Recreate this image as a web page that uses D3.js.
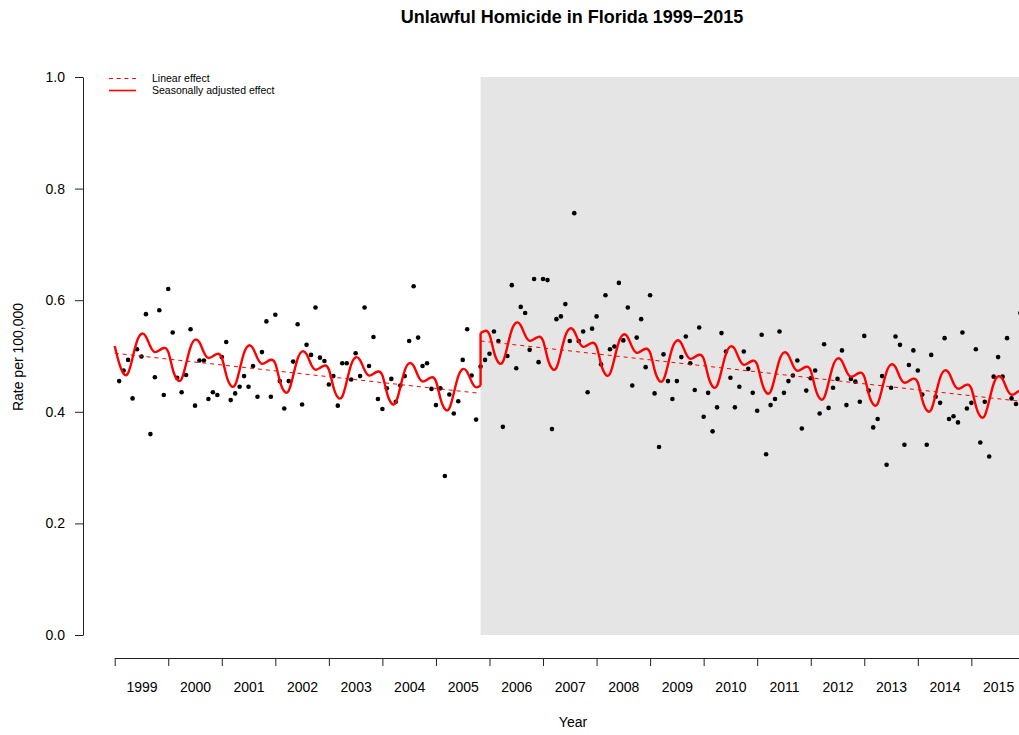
<!DOCTYPE html>
<html>
<head>
<meta charset="utf-8">
<script src="https://cdn.jsdelivr.net/npm/d3@7"></script>
<style>
body { margin: 0; background: #fff; }
svg { display: block; font-family: "Liberation Sans", Arial, Helvetica, sans-serif; }
</style>
</head>
<body>
<svg id="chart" width="1019" height="735"></svg>
<script>

// monthly rate per 100,000, month 1 = Jan 1999
var rates = [
  0.455, 0.474, 0.493, 0.424, 0.512, 0.499, 0.575, 0.360, 0.462, 0.582, 0.430, 0.620,
  0.542, 0.461, 0.435, 0.466, 0.548, 0.411, 0.492, 0.492, 0.423, 0.435, 0.430, 0.498,
  0.525, 0.421, 0.433, 0.445, 0.464, 0.445, 0.482, 0.427, 0.507, 0.562, 0.427, 0.574,
  0.455, 0.406, 0.455, 0.490, 0.557, 0.413, 0.520, 0.502, 0.587, 0.497, 0.491, 0.449,
  0.464, 0.411, 0.487, 0.487, 0.458, 0.505, 0.464, 0.587, 0.482, 0.534, 0.423, 0.405,
  0.442, 0.459, 0.418, 0.447, 0.464, 0.527, 0.625, 0.533, 0.482, 0.487, 0.441, 0.412,
  0.442, 0.285, 0.431, 0.397, 0.419, 0.493, 0.548, 0.465, 0.386, 0.481, 0.493, 0.504,
  0.544, 0.527, 0.373, 0.500, 0.627, 0.478, 0.588, 0.577, 0.511, 0.638, 0.489, 0.638,
  0.636, 0.369, 0.566, 0.571, 0.593, 0.527, 0.756, 0.527, 0.544, 0.435, 0.549, 0.571,
  0.485, 0.609, 0.512, 0.517, 0.631, 0.528, 0.587, 0.447, 0.533, 0.566, 0.480, 0.609,
  0.433, 0.337, 0.503, 0.455, 0.423, 0.455, 0.498, 0.535, 0.487, 0.439, 0.551, 0.391,
  0.434, 0.365, 0.408, 0.541, 0.508, 0.461, 0.408, 0.445, 0.508, 0.477, 0.434, 0.402,
  0.538, 0.324, 0.412, 0.423, 0.544, 0.434, 0.455, 0.465, 0.492, 0.370, 0.438, 0.460,
  0.474, 0.397, 0.521, 0.407, 0.443, 0.459, 0.510, 0.412, 0.459, 0.454, 0.418, 0.536,
  0.438, 0.372, 0.387, 0.464, 0.305, 0.443, 0.535, 0.520, 0.341, 0.484, 0.510, 0.474,
  0.431, 0.341, 0.502, 0.427, 0.416, 0.532, 0.387, 0.392, 0.381, 0.542, 0.406, 0.416,
  0.512, 0.345, 0.418, 0.320, 0.463, 0.498, 0.463, 0.532, 0.424, 0.414, 0.577
];

var yearLabels = ["1999", "2000", "2001", "2002", "2003", "2004", "2005", "2006", "2007",
                  "2008", "2009", "2010", "2011", "2012", "2013", "2014", "2015"];
var yTicks = [0, 0.2, 0.4, 0.6, 0.8, 1.0];

// model: break at Oct 2005, linear trend before/after, seasonal offsets by month
var breakMonth = 82;
var lastMonth = 204;
var linearPre = [0.505, 0.433];   // at month 0 and breakMonth
var linearPost = [0.527, 0.418];  // at breakMonth and lastMonth
var seasonal = [0.013, -0.017, -0.035, -0.033, -0.005, 0.026, 0.040, 0.036, 0.019, 0.010, 0.014, 0.019];
var legendLabels = ["Linear effect", "Seasonally adjusted effect"];

var svg = d3.select('#chart');

var x = d3.scaleLinear().domain([0, lastMonth]).range([114.7, 1024.9]);
var y = d3.scaleLinear().domain([0, 1]).range([635, 77]);

var pre = d3.scaleLinear().domain([0, breakMonth]).range(linearPre);
var post = d3.scaleLinear().domain([breakMonth, lastMonth]).range(linearPost);

// shaded post period
svg.append('rect')
  .attr('x', x(breakMonth))
  .attr('y', y(1))
  .attr('width', 1019 - x(breakMonth))
  .attr('height', y(0) - y(1))
  .attr('fill', '#e5e5e5');

// points
svg.append('g')
  .selectAll('circle')
  .data(rates)
  .enter()
  .append('circle')
    .attr('cx', function(d, i){ return x(i + 1) })
    .attr('cy', function(d){ return y(d) })
    .attr('r', 2.3)
    .attr('fill', '#000');

var line = d3.line()
  .x(function(d){ return x(d[0]) })
  .y(function(d){ return y(d[1]) });

// linear effect
[[0, breakMonth, pre], [breakMonth, lastMonth, post]].forEach(function(seg){
  svg.append('path')
    .attr('d', line([[seg[0], seg[2](seg[0])], [seg[1], seg[2](seg[1])]]))
    .attr('fill', 'none')
    .attr('stroke', '#ff0000')
    .attr('stroke-width', 1)
    .attr('stroke-dasharray', '4,4');
});

// seasonally adjusted effect
var smooth = d3.line()
  .x(function(d){ return x(d[0]) })
  .y(function(d){ return y(d[1]) })
  .curve(d3.curveNatural);

var preCurve = d3.range(0, breakMonth + 1).map(function(t){ return [t, pre(t) + seasonal[t % 12]] });
var postCurve = d3.range(breakMonth, lastMonth + 1).map(function(t){ return [t, post(t) + seasonal[t % 12]] });

[preCurve, postCurve, [preCurve[preCurve.length - 1], postCurve[0]]].forEach(function(pts){
  svg.append('path')
    .attr('d', smooth(pts))
    .attr('fill', 'none')
    .attr('stroke', '#ff0000')
    .attr('stroke-width', 2.4);
});

// axes
svg.append('g')
  .attr('transform', 'translate(0,658)')
  .call(d3.axisBottom(x)
    .tickValues(d3.range(0, lastMonth + 1, 12))
    .tickSize(8)
    .tickSizeOuter(0)
    .tickFormat(''));

svg.append('g')
  .attr('transform', 'translate(0,658)')
  .call(d3.axisBottom(x)
    .tickValues(yearLabels.map(function(d, i){ return i * 12 + 6 }))
    .tickSize(0)
    .tickPadding(24)
    .tickFormat(function(d){ return yearLabels[(d - 6) / 12] }))
  .call(function(g){ g.select('.domain').remove() });

svg.append('g')
  .attr('transform', 'translate(83,0)')
  .call(d3.axisLeft(y)
    .tickValues(yTicks)
    .tickSize(8)
    .tickSizeOuter(0)
    .tickPadding(10)
    .tickFormat(d3.format('.1f')));

svg.selectAll('.tick text')
  .attr('font-size', 14)
  .attr('font-family', '"Liberation Sans", Arial, sans-serif')
  .attr('fill', '#000');
svg.selectAll('.domain, .tick line').attr('stroke', '#222');

// titles
svg.append('text')
  .attr('x', 572).attr('y', 23)
  .attr('text-anchor', 'middle')
  .attr('font-size', 18)
  .attr('font-weight', 'bold')
  .text('Unlawful Homicide in Florida 1999\u22122015');

svg.append('text')
  .attr('x', 573).attr('y', 727)
  .attr('text-anchor', 'middle')
  .attr('font-size', 14)
  .text('Year');

svg.append('text')
  .attr('transform', 'translate(23,357) rotate(-90)')
  .attr('text-anchor', 'middle')
  .attr('font-size', 14)
  .text('Rate per 100,000');

// legend
var legend = svg.append('g');
legendLabels.forEach(function(lab, i){
  var ly = 78.5 + i * 12;
  legend.append('line')
    .attr('x1', 109).attr('x2', 136)
    .attr('y1', ly).attr('y2', ly)
    .attr('stroke', '#ff0000')
    .attr('stroke-width', i == 0 ? 1 : 1.6)
    .attr('stroke-dasharray', i == 0 ? '4,3.7' : null);
  legend.append('text')
    .attr('x', 152).attr('y', ly + 3.7)
    .attr('font-size', 10.5)
    .text(lab);
});

</script>
</body>
</html>
